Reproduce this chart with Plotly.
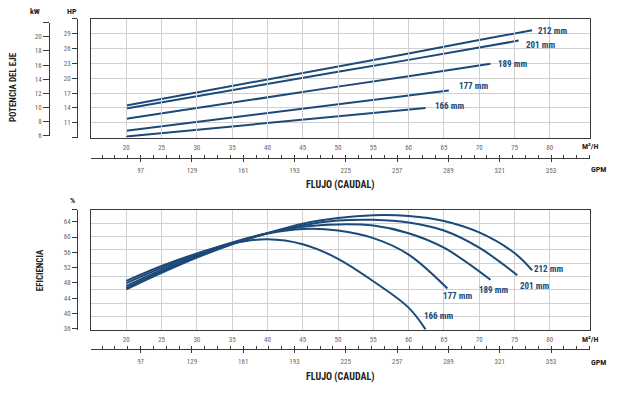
import plotly.graph_objects as go

# ---------------- data ----------------
flow_ticks = [20, 25, 30, 35, 40, 45, 50, 55, 60, 65, 70, 75, 80]
gpm_ticks = [97, 129, 161, 193, 225, 257, 289, 321, 353]
hp_ticks = [11, 14, 17, 20, 23, 26, 29]
kw_ticks = [6, 8, 10, 12, 14, 16, 18, 20]
eff_ticks = [36, 40, 44, 48, 52, 56, 60, 64]
diameters = ["212 mm", "201 mm", "189 mm", "177 mm", "166 mm"]

# shaft power (HP) vs flow (m3/h)
pow_flow_212 = [20, 30, 40, 50, 60, 70, 77.5]
pow_hp_212 = [14.5, 17.1, 19.8, 22.4, 25.0, 27.7, 29.7]
pow_flow_201 = [20, 30, 40, 50, 60, 70, 75.6]
pow_hp_201 = [13.9, 16.4, 18.8, 21.3, 23.7, 26.2, 27.6]
pow_flow_189 = [20, 30, 40, 50, 60, 71.6]
pow_hp_189 = [11.8, 14.0, 16.1, 18.3, 20.4, 22.9]
pow_flow_177 = [20, 30, 40, 50, 60, 65.7]
pow_hp_177 = [9.4, 11.2, 12.9, 14.7, 16.5, 17.5]
pow_flow_166 = [20, 30, 40, 50, 62.4]
pow_hp_166 = [8.2, 9.6, 10.9, 12.3, 14.0]

# efficiency (%) vs flow (m3/h)
eff_flow_212 = [20, 25, 30, 35, 40, 45, 50, 55, 60, 65, 70, 75, 77.5]
eff_212 = [46.3, 50.6, 54.6, 58.1, 61.0, 63.5, 65.0, 65.7, 65.5, 64.2, 61.2, 55.8, 51.3]
eff_flow_201 = [20, 25, 30, 35, 40, 45, 50, 55, 60, 65, 70, 75.4]
eff_201 = [46.7, 51.0, 54.9, 58.3, 61.0, 63.1, 64.3, 64.5, 63.8, 61.7, 57.2, 50.0]
eff_flow_189 = [20, 25, 30, 35, 40, 45, 50, 55, 60, 65, 71.6]
eff_189 = [47.2, 51.4, 55.1, 58.4, 61.0, 62.7, 63.3, 63.0, 61.0, 57.2, 48.8]
eff_flow_177 = [20, 25, 30, 35, 40, 45, 50, 55, 60, 65.5]
eff_177 = [47.9, 51.9, 55.5, 58.6, 60.9, 62.1, 61.7, 59.7, 55.4, 46.5]
eff_flow_166 = [20, 25, 30, 35, 40, 45, 50, 55, 60, 62.4]
eff_166 = [48.5, 52.4, 55.7, 58.3, 59.4, 58.1, 54.3, 48.4, 41.5, 35.8]

GPM_PER_M3H = 4.4029
FLOW_RANGE = [15, 85.7]
HP_RANGE = [8, 32]
KW_RANGE = [6, 22]
EFF_RANGE = [35.74, 67.11]

# ---------------- styling ----------------
W, H = 619, 396
def px(p):
    return p / W
def py(p):
    return 1 - p / H

FONT = "Roboto Condensed, Liberation Sans Narrow, DejaVu Sans Condensed, Roboto, sans-serif"
BLUE = "#1c4a78"
GRID = "#d0d0d0"
FRAME = "#3a3a3a"
TICKC = "#666666"
tickfont = dict(family=FONT, size=7, color=TICKC)

X_DOM = [px(91), px(590)]
TOP_DOM = [py(139), py(19)]
BOT_DOM = [py(333), py(212)]

power = [(pow_flow_212, pow_hp_212), (pow_flow_201, pow_hp_201), (pow_flow_189, pow_hp_189),
         (pow_flow_177, pow_hp_177), (pow_flow_166, pow_hp_166)]
eff = [(eff_flow_212, eff_212), (eff_flow_201, eff_201), (eff_flow_189, eff_189),
       (eff_flow_177, eff_177), (eff_flow_166, eff_166)]

top_label_shift = [(4, -1), (5, -4), (6, 0), (8, 5), (7, 2)]
bot_label_shift = [(16, 1), (17, -11), (3, -10), (10, -7), (13, 13)]

fig = go.Figure()
ann = []
label_font = dict(family=FONT, size=9, color=BLUE, weight="bold")
for name, (fx, fy), (dx, dy) in zip(diameters, power, top_label_shift):
    fig.add_trace(go.Scatter(x=fx, y=fy, mode="lines", xaxis="x", yaxis="y",
                             line=dict(color=BLUE, width=2), name=name,
                             showlegend=False, hoverinfo="skip"))
    ann.append(dict(x=fx[-1], y=fy[-1], xref="x", yref="y", text=name, showarrow=False,
                    xanchor="left", yanchor="middle", xshift=dx, yshift=dy, font=label_font))
for name, (fx, fy), (dx, dy) in zip(diameters, eff, bot_label_shift):
    fig.add_trace(go.Scatter(x=fx, y=fy, mode="lines", xaxis="x2", yaxis="y4",
                             line=dict(color=BLUE, width=2, shape="spline", smoothing=1.0),
                             name=name, showlegend=False, hoverinfo="skip", cliponaxis=True))
    ann.append(dict(x=fx[-1], y=fy[-1], xref="x2", yref="y4", text=name, showarrow=False,
                    xanchor="center", yanchor="middle", xshift=dx, yshift=dy, font=label_font))

# dummy traces so that secondary axes exist
for xa, ya in [("x", "y2"), ("x", "y3"), ("x3", "y"), ("x2", "y5"), ("x4", "y4")]:
    fig.add_trace(go.Scatter(x=[None], y=[None], xaxis=xa, yaxis=ya, showlegend=False,
                             hoverinfo="skip"))

# efficiency grid: the box is divided into 9 equal bands
eff_grid = [EFF_RANGE[0] + (EFF_RANGE[1] - EFF_RANGE[0]) * k / 9 for k in range(1, 9)]

main_x = dict(domain=X_DOM, range=FLOW_RANGE, tickmode="array", tickvals=flow_ticks,
              showgrid=True, gridcolor=GRID, gridwidth=1, zeroline=False,
              showline=True, linecolor=FRAME, linewidth=1, mirror=True, ticks="",
              tickfont=tickfont, ticklabelstandoff=3, layer="below traces")
gpm_x = dict(range=[FLOW_RANGE[0] * GPM_PER_M3H, FLOW_RANGE[1] * GPM_PER_M3H],
             tickmode="array", tickvals=gpm_ticks, ticks="outside", ticklen=3,
             tickcolor=FRAME, tickwidth=1, showline=True, linecolor=FRAME, linewidth=1,
             showgrid=False, zeroline=False, tickfont=tickfont, anchor="free", side="bottom",
             minor=dict(ticks="inside", ticklen=3, dtick=8, tick0=1, tickcolor=FRAME,
                        tickwidth=1, showgrid=False),
             ticklabelstandoff=2)
side_y = dict(anchor="free", ticks="outside", ticklen=5, tickcolor=FRAME, showline=True,
              linecolor=FRAME, showgrid=False, zeroline=False, tickfont=tickfont,
              tickmode="array")

fig.update_layout(
    width=W, height=H, margin=dict(l=0, r=0, t=0, b=0),
    paper_bgcolor="white", plot_bgcolor="rgba(0,0,0,0)",
    font=dict(family=FONT),
    xaxis=dict(main_x, anchor="y"),
    yaxis=dict(domain=TOP_DOM, range=HP_RANGE, tickmode="array", tickvals=hp_ticks,
               showgrid=True, gridcolor=GRID, showticklabels=False, ticks="",
               showline=True, linecolor=FRAME, linewidth=1, mirror=True, zeroline=False),
    yaxis2=dict(side_y, overlaying="y", position=px(77), range=HP_RANGE,
                tickvals=[HP_RANGE[0]] + hp_ticks + [HP_RANGE[1]],
                ticktext=[""] + [str(v) for v in hp_ticks] + [""]),
    yaxis3=dict(side_y, domain=[py(137), py(23)], position=px(49), range=KW_RANGE,
                tickvals=kw_ticks + [KW_RANGE[1]], ticklen=6,
                ticktext=[str(v) for v in kw_ticks] + [""]),
    xaxis3=dict(gpm_x, overlaying="x", position=py(160)),
    xaxis2=dict(main_x, anchor="y4"),
    yaxis4=dict(domain=BOT_DOM, range=EFF_RANGE, tickmode="array", tickvals=eff_grid,
                showgrid=True, gridcolor=GRID, showticklabels=False, ticks="",
                showline=True, linecolor=FRAME, linewidth=1, mirror=True, zeroline=False),
    yaxis5=dict(side_y, overlaying="y4", position=px(77), range=EFF_RANGE,
                tickvals=eff_ticks + [EFF_RANGE[1]],
                ticktext=[str(v) for v in eff_ticks] + [""]),
    xaxis4=dict(gpm_x, overlaying="x2", position=py(353)),
)

title_font = dict(family=FONT, size=10, color="#222222", weight="bold")
small_bold = dict(family=FONT, size=8, color="#222222", weight="bold")
paper_text = [
    ("kW", 35, 12, small_bold, 0),
    ("HP", 72, 12, small_bold, 0),
    ("%", 72, 203, small_bold, 0),
    ("POTENCIA DEL EJE", 13, 88, dict(title_font, size=9), -90),
    ("EFICIENCIA", 40, 273, dict(title_font, size=9), -90),
    ("M³/H", 590, 148, small_bold, 0),
    ("GPM", 598, 171, small_bold, 0),
    ("FLUJO (CAUDAL)", 340, 187, title_font, 0),
    ("M³/H", 590, 343, small_bold, 0),
    ("GPM", 598, 366, small_bold, 0),
    ("FLUJO (CAUDAL)", 340, 381, title_font, 0),
]
for t, x, y, f, ang in paper_text:
    ann.append(dict(x=px(x), y=py(y), xref="paper", yref="paper", text=t, showarrow=False,
                    xanchor="center", yanchor="middle", font=f, textangle=ang))
fig.update_layout(annotations=ann)

fig.write_html("out.html", config={"displayModeBar": False},
               post_script="document.body.style.margin='0';")
